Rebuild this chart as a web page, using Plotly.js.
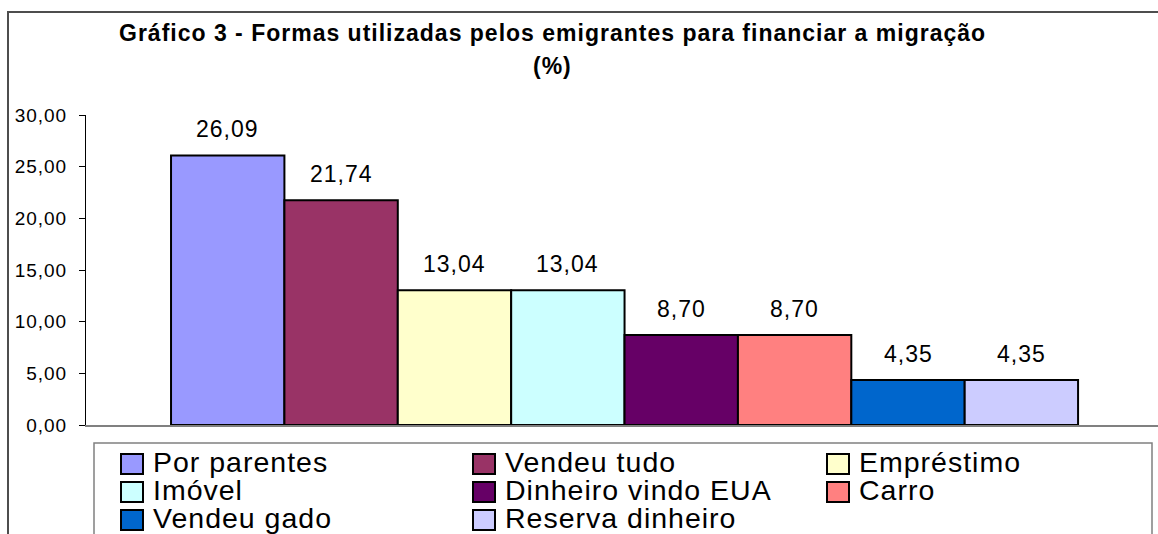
<!DOCTYPE html>
<html>
<head>
<meta charset="utf-8">
<script src="https://cdn.plot.ly/plotly-3.0.1.min.js"></script>
<style>
html,body{margin:0;padding:0;background:#fff;}
#chart{width:1158px;height:534px;}
svg text{letter-spacing:1px;}
</style>
</head>
<body>
<div id="chart"></div>
<script>
// ---- data ----
const categories = ["Por parentes", "Vendeu tudo", "Empréstimo", "Imóvel", "Dinheiro vindo EUA", "Carro", "Vendeu gado", "Reserva dinheiro"];
const values = [26.09, 21.74, 13.04, 13.04, 8.70, 8.70, 4.35, 4.35];
const colors = ["#9999FF", "#993366", "#FFFFCC", "#CCFFFF", "#660066", "#FF8080", "#0066CC", "#CCCCFF"];
const titleLine1 = "Gráfico 3 - Formas utilizadas pelos emigrantes para financiar a migração";
const titleLine2 = "(%)";

// ---- layout helpers (pixel -> paper) ----
const W = 1158, H = 534;
const mL = 86, mR = 0, mT = 115, mB = 109;
const pw = W - mL - mR, ph = H - mT - mB;
const px2x = p => (p - mL) / pw;
const py2y = p => (H - mB - p) / ph;
const FONT = "Liberation Sans, Arial, sans-serif";

const trace = {
  type: "bar",
  x: categories,
  y: values,
  marker: { color: colors, line: { color: "#000000", width: 2 } },
  hoverinfo: "x+y",
  showlegend: false
};

const annotations = [];
const shapes = [];

// data labels
values.forEach((v, i) => {
  annotations.push({
    x: categories[i], y: v, xref: "x", yref: "y",
    text: v.toFixed(2).replace(".", ","),
    showarrow: false, yanchor: "bottom", yshift: 11,
    font: { family: FONT, size: 23, color: "#000" }
  });
});

// title
annotations.push({
  xref: "paper", yref: "paper", x: px2x(552), y: py2y(33),
  text: "<b>" + titleLine1 + "</b>", showarrow: false,
  xanchor: "center", yanchor: "middle",
  font: { family: FONT, size: 23, color: "#000" }
});
annotations.push({
  xref: "paper", yref: "paper", x: px2x(552), y: py2y(66),
  text: "<b>" + titleLine2 + "</b>", showarrow: false,
  xanchor: "center", yanchor: "middle",
  font: { family: FONT, size: 23, color: "#000" }
});

// outer chart border (extends beyond the visible area)
shapes.push({
  type: "rect", xref: "paper", yref: "paper",
  x0: px2x(8), x1: px2x(1175), y0: py2y(12), y1: py2y(560),
  line: { color: "#4d4d4d", width: 2 }, fillcolor: "rgba(0,0,0,0)", layer: "below"
});

// legend box
shapes.push({
  type: "rect", xref: "paper", yref: "paper",
  x0: px2x(94), x1: px2x(1152), y0: py2y(443), y1: py2y(560),
  line: { color: "#808080", width: 1.5 }, fillcolor: "rgba(0,0,0,0)"
});

// custom legend entries
const colX = [121, 473, 827];
categories.forEach((name, i) => {
  const c = i % 3, r = Math.floor(i / 3);
  const sx = colX[c], sy = 454 + 28 * r;
  shapes.push({
    type: "rect", xref: "paper", yref: "paper",
    x0: px2x(sx), x1: px2x(sx + 22), y0: py2y(sy), y1: py2y(sy + 20),
    line: { color: "#000", width: 2 }, fillcolor: colors[i]
  });
  annotations.push({
    xref: "paper", yref: "paper", x: px2x(sx + 30), y: py2y(sy + 8),
    text: name, showarrow: false, xanchor: "left", yanchor: "middle",
    font: { family: FONT, size: 28.5, color: "#000" }
  });
});

// y axis extension below the category axis
shapes.push({
  type: "line", xref: "x domain", yref: "y",
  x0: 0, x1: 0, ysizemode: "pixel", yanchor: 0, y0: 0, y1: -7,
  line: { color: "#000", width: 1 }
});

const layout = {
  width: W, height: H,
  margin: { l: mL, r: mR, t: mT, b: mB, pad: 0 },
  paper_bgcolor: "#fff", plot_bgcolor: "#fff",
  separators: ", ",
  bargap: 0,
  font: { family: FONT, color: "#000" },
  xaxis: {
    type: "category", range: [-1.25, 8.205],
    showticklabels: false, ticks: "", showgrid: false, zeroline: false,
    showline: true, linecolor: "#808080", linewidth: 1.5, fixedrange: true
  },
  yaxis: {
    range: [0, 30], dtick: 5, tick0: 0, tickformat: ".2f",
    showgrid: false, zeroline: false,
    showline: true, linecolor: "#000", linewidth: 1,
    ticks: "outside", ticklen: 6, tickcolor: "#000", tickwidth: 1,
    ticklabelstandoff: 8,
    tickfont: { family: FONT, size: 19, color: "#000" }, fixedrange: true
  },
  annotations: annotations,
  shapes: shapes,
  showlegend: false
};

Plotly.newPlot("chart", [trace], layout, { displayModeBar: false, staticPlot: true });
</script>
</body>
</html>
